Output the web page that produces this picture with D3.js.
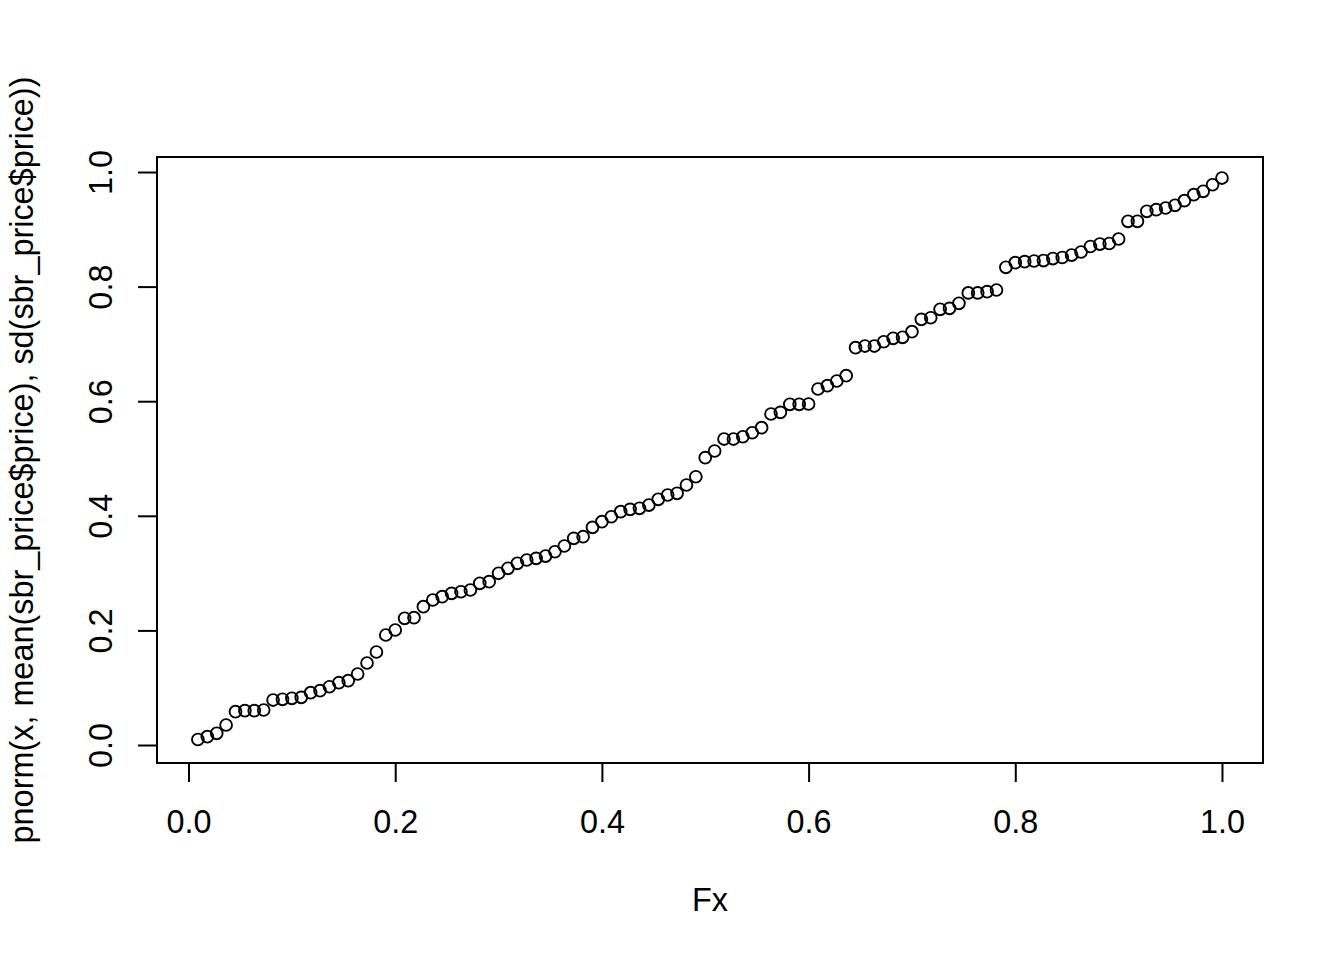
<!DOCTYPE html>
<html>
<head>
<meta charset="utf-8">
<script src="https://cdn.jsdelivr.net/npm/d3@7"></script>
<style>
  html, body { margin: 0; padding: 0; background: #fff; }
  svg { display: block; }
  text { font-family: "Liberation Sans", Arial, sans-serif; fill: #000; }
</style>
</head>
<body>
<svg id="chart" width="1344" height="960"></svg>
<script>
// Sample size (Fx = i / n)
const n = 110;
// pnorm(x, mean, sd) values, in sorted order
const pnormValues = [
  0.0096, 0.0145, 0.0204, 0.0349, 0.0581, 0.0599, 0.0599, 0.0611, 0.0785, 0.0798,
  0.0815, 0.0832, 0.0913, 0.0948, 0.1017, 0.1087, 0.1122, 0.1239, 0.1431, 0.1623,
  0.1920, 0.2007, 0.2211, 0.2222, 0.2414, 0.2531, 0.2588, 0.2647, 0.2675, 0.2705,
  0.2822, 0.2850, 0.2997, 0.3084, 0.3171, 0.3229, 0.3258, 0.3298, 0.3373, 0.3473,
  0.3607, 0.3635, 0.3799, 0.3897, 0.3984, 0.4072, 0.4113, 0.4131, 0.4188, 0.4288,
  0.4363, 0.4393, 0.4538, 0.4682, 0.5014, 0.5131, 0.5340, 0.5340, 0.5380, 0.5450,
  0.5538, 0.5777, 0.5806, 0.5946, 0.5946, 0.5951, 0.6213, 0.6271, 0.6353, 0.6445,
  0.6934, 0.6963, 0.6963, 0.7038, 0.7098, 0.7115, 0.7213, 0.7429, 0.7457, 0.7604,
  0.7621, 0.7709, 0.7890, 0.7890, 0.7911, 0.7941, 0.8337, 0.8417, 0.8435, 0.8447,
  0.8455, 0.8490, 0.8508, 0.8551, 0.8604, 0.8700, 0.8743, 0.8752, 0.8831, 0.9140,
  0.9140, 0.9314, 0.9342, 0.9372, 0.9419, 0.9500, 0.9604, 0.9663, 0.9778, 0.9895
];
const xTicks = [0.0, 0.2, 0.4, 0.6, 0.8, 1.0];
const yTicks = [0.0, 0.2, 0.4, 0.6, 0.8, 1.0];
const xTitle = "Fx";
const yTitle = "pnorm(x, mean(sbr_price$price), sd(sbr_price$price))";
const xDomain = [-0.0305, 1.0397];
const yDomain = [-0.0314, 1.0262];

const points = pnormValues.map((v, i) => ({ fx: (i + 1) / n, p: v }));

const box = { left: 157, right: 1263, top: 157, bottom: 763 };

const x = d3.scaleLinear().domain(xDomain).range([box.left, box.right]);
const y = d3.scaleLinear().domain(yDomain).range([box.bottom, box.top]);

const svg = d3.select("#chart");
const fontSize = 32.4;

// points
svg.append("g")
  .selectAll("circle")
  .data(points)
  .join("circle")
  .attr("cx", d => x(d.fx))
  .attr("cy", d => y(d.p))
  .attr("r", 5.9)
  .attr("fill", "none")
  .attr("stroke", "#000")
  .attr("stroke-width", 1.9);

// x axis
const xAxis = svg.append("g")
  .attr("transform", `translate(0,${box.bottom})`)
  .call(d3.axisBottom(x).tickValues(xTicks).tickFormat(d3.format(".1f")).tickSize(19).tickSizeOuter(0));
xAxis.select(".domain").remove();
xAxis.selectAll(".tick line").attr("stroke", "#000").attr("stroke-width", 2);
xAxis.selectAll(".tick text")
  .attr("y", 70).attr("dy", 0)
  .style("font-size", fontSize + "px")
  .style("font-family", "Liberation Sans, Arial, sans-serif")
  .attr("fill", "#000");

// y axis
const yAxis = svg.append("g")
  .attr("transform", `translate(${box.left},0)`)
  .call(d3.axisLeft(y).tickValues(yTicks).tickFormat(d3.format(".1f")).tickSize(19).tickSizeOuter(0));
yAxis.select(".domain").remove();
yAxis.selectAll(".tick line").attr("stroke", "#000").attr("stroke-width", 2);
yAxis.selectAll(".tick text")
  .attr("transform", "rotate(-90)")
  .attr("x", 0).attr("y", -45).attr("dy", 0)
  .attr("text-anchor", "middle")
  .style("font-size", fontSize + "px")
  .style("font-family", "Liberation Sans, Arial, sans-serif")
  .attr("fill", "#000");

// box
svg.append("rect")
  .attr("x", box.left).attr("y", box.top)
  .attr("width", box.right - box.left).attr("height", box.bottom - box.top)
  .attr("fill", "none").attr("stroke", "#000").attr("stroke-width", 2);

// titles
svg.append("text")
  .attr("x", (box.left + box.right) / 2).attr("y", 911)
  .attr("text-anchor", "middle")
  .style("font-size", fontSize + "px")
  .text(xTitle);

svg.append("text")
  .attr("transform", `translate(33,${(box.top + box.bottom) / 2}) rotate(-90)`)
  .attr("text-anchor", "middle")
  .style("font-size", fontSize + "px")
  .text(yTitle);
</script>
</body>
</html>
